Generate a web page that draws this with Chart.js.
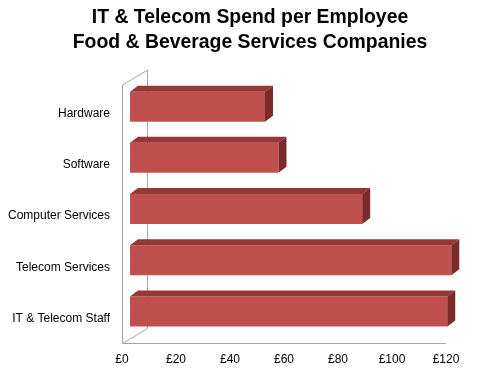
<!DOCTYPE html>
<html>
<head>
<meta charset="utf-8">
<script src="https://cdn.jsdelivr.net/npm/chart.js"></script>
<style>
  body { margin: 0; background: #fff; }
</style>
</head>
<body>
<canvas id="chart" width="500" height="374"></canvas>
<script>
// data
const categories = ['Hardware', 'Software', 'Computer Services', 'Telecom Services', 'IT & Telecom Staff'];
const spend = [50, 55, 86, 119, 117.5];
const xTicks = [0, 20, 40, 60, 80, 100, 120];

const FRONT = '#C0504D';
const TOP = '#953735';
const SIDE = '#7B2C2A';
const WALL = '#A6A6A6';

// fake 3d: bars sit a bit back from the front plane, with a top and side face
const shift = { x: 8, y: -7 };
const depth = { x: 8, y: 6 };
const wall = { x: 25, y: 15 };

const bar3d = {
  id: 'bar3d',
  beforeDraw(chart) {
    const { ctx, chartArea } = chart;
    const x0 = chart.scales.x.getPixelForValue(0);
    const xEnd = chart.scales.x.getPixelForValue(120);
    const top = chartArea.top - 3;
    const floor = chartArea.bottom - 0.5;
    ctx.save();
    ctx.strokeStyle = WALL;
    ctx.lineWidth = 1;
    ctx.beginPath();
    // left wall
    ctx.moveTo(x0 + 0.5, floor);
    ctx.lineTo(x0 + 0.5, top);
    ctx.lineTo(x0 + wall.x + 0.5, top - wall.y);
    ctx.lineTo(x0 + wall.x + 0.5, floor - wall.y);
    ctx.lineTo(x0 + 0.5, floor);
    // floor front edge
    ctx.lineTo(xEnd, floor);
    ctx.stroke();
    ctx.restore();
  },
  beforeDatasetsDraw(chart) {
    chart.ctx.save();
    chart.ctx.translate(shift.x, shift.y);
  },
  afterDatasetsDraw(chart) {
    const ctx = chart.ctx;
    chart.getDatasetMeta(0).data.forEach(bar => {
      const l = bar.base, r = bar.x;
      const t = bar.y - bar.height / 2, b = bar.y + bar.height / 2;
      ctx.fillStyle = TOP;
      ctx.beginPath();
      ctx.moveTo(l, t);
      ctx.lineTo(l + depth.x, t - depth.y);
      ctx.lineTo(r + depth.x, t - depth.y);
      ctx.lineTo(r, t);
      ctx.closePath();
      ctx.fill();
      ctx.fillStyle = SIDE;
      ctx.beginPath();
      ctx.moveTo(r, t);
      ctx.lineTo(r + depth.x, t - depth.y);
      ctx.lineTo(r + depth.x, b - depth.y);
      ctx.lineTo(r, b);
      ctx.closePath();
      ctx.fill();
    });
    ctx.restore();
  }
};

new Chart(document.getElementById('chart'), {
  type: 'bar',
  data: {
    labels: categories,
    datasets: [{
      data: spend,
      backgroundColor: FRONT,
      borderWidth: 0,
      categoryPercentage: 1,
      barPercentage: 0.586
    }]
  },
  options: {
    indexAxis: 'y',
    responsive: false,
    animation: false,
    layout: { padding: 0 },
    plugins: {
      legend: { display: false },
      tooltip: { enabled: false },
      title: {
        display: true,
        text: ['IT & Telecom Spend per Employee', 'Food & Beverage Services Companies'],
        color: '#000',
        font: { family: 'Liberation Sans, Arial, sans-serif', size: 19.4, weight: 'bold', lineHeight: 1.29 },
        padding: { top: 5, bottom: 33 }
      }
    },
    scales: {
      x: {
        min: 0,
        max: 120,
        afterBuildTicks: scale => { scale.ticks = xTicks.map(v => ({ value: v })); },
        afterFit: scale => { scale.height = 30; },
        grid: { display: false, drawTicks: false },
        border: { display: false },
        ticks: {
          color: '#000',
          padding: 8,
          maxRotation: 0,
          font: { family: 'Liberation Sans, Arial, sans-serif', size: 12 },
          callback: v => '£' + v
        }
      },
      y: {
        afterFit: scale => { scale.width = 122; },
        grid: { display: false, drawTicks: false },
        border: { display: false },
        ticks: {
          color: '#000',
          padding: 12,
          font: { family: 'Liberation Sans, Arial, sans-serif', size: 12 }
        }
      },
      // empty right-hand margin so the title stays centred on the page
      yRight: {
        position: 'right',
        afterFit: scale => { scale.width = 54; },
        grid: { display: false, drawTicks: false },
        border: { display: false },
        ticks: { display: false }
      }
    }
  },
  plugins: [bar3d]
});
</script>
</body>
</html>
